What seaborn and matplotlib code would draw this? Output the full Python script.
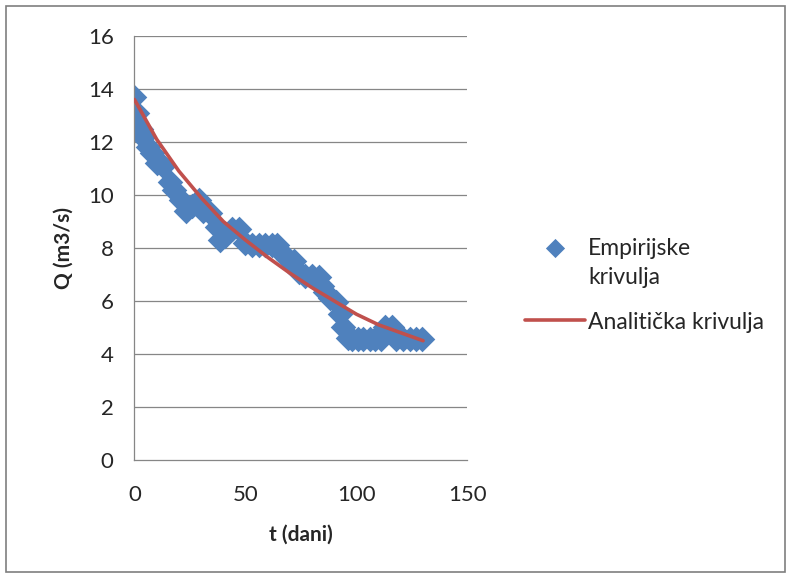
import matplotlib.pyplot as plt
import matplotlib.patches as mpatches
import pandas as pd
import seaborn as sns

t_emp = [0, 1, 3, 4, 6, 8, 10, 13, 16, 18, 21, 23, 26, 29, 31, 34, 37, 38.5,
         41, 44, 47, 50, 53, 56, 59, 62, 64, 66, 69, 72, 74, 77, 80, 83, 84.5,
         86, 88, 91, 92.5, 94, 96, 98, 100.5, 103, 106, 108.5, 111, 113, 116,
         118, 121, 124, 127, 129.5]
q_emp = [13.7, 13.1, 12.5, 12.2, 11.8, 11.6, 11.2, 11.1, 10.5, 10.2, 9.8, 9.4,
         9.6, 9.8, 9.4, 9.3, 8.8, 8.3, 8.45, 8.7, 8.7, 8.2, 8.1, 8.1, 8.1, 8.1,
         8.1, 7.85, 7.6, 7.5, 7.1, 6.95, 6.95, 6.9, 6.55, 6.35, 6.1, 5.95, 5.5,
         5.0, 4.6, 4.55, 4.55, 4.55, 4.55, 4.55, 4.55, 5.0, 5.0, 4.55, 4.55,
         4.55, 4.55, 4.55]

# Analytical curve
t_an = [0, 10, 20, 30, 40, 50, 60, 70, 80, 90, 100, 110, 120, 130]
q_an = [13.6, 12.1, 10.9, 9.9, 9.0, 8.3, 7.65, 7.05, 6.5, 6.0, 5.5, 5.1, 4.8, 4.5]

df_emp = pd.DataFrame({'t': t_emp, 'Q': q_emp})
df_an = pd.DataFrame({'t': t_an, 'Q': q_an})

sns.set_style('white')
plt.rcParams['font.family'] = ['Lato', 'DejaVu Sans']

fig = plt.figure(figsize=(7.91, 5.79), dpi=100)
ax = fig.add_axes([0.170, 0.2055, 0.421, 0.7325])

grid_col = '#868686'
for y in range(2, 17, 2):
    ax.axhline(y, color=grid_col, lw=0.9, zorder=0)

sns.scatterplot(data=df_emp, x='t', y='Q', ax=ax, marker='D', s=170,
                color='#4F81BD', edgecolor='#4F81BD', linewidth=0,
                label='Empirijske\nkrivulja', zorder=2)
sns.lineplot(data=df_an, x='t', y='Q', ax=ax, color='#C0504D', lw=2.6,
             label='Analitička krivulja', zorder=3, solid_capstyle='round')

ax.set_xlim(0, 150)
ax.set_ylim(0, 16)
ax.set_xticks([0, 50, 100, 150])
ax.set_yticks(range(0, 17, 2))
ax.tick_params(axis='both', direction='out', length=6, width=0.9,
               color=grid_col, labelsize=16, labelcolor='#262626')
ax.tick_params(axis='y', pad=9)
ax.tick_params(axis='x', pad=12)
for s in ['top', 'right']:
    ax.spines[s].set_visible(False)
for s in ['left', 'bottom']:
    ax.spines[s].set_color(grid_col)
    ax.spines[s].set_linewidth(0.9)

ax.set_xlabel('t (dani)', fontsize=15, fontweight='bold', labelpad=14)
ax.set_ylabel('Q (m3/s)', fontsize=15, fontweight='bold', labelpad=10)

leg = ax.legend(loc='center left', bbox_to_anchor=(0.638, 0.507), bbox_transform=fig.transFigure,
                frameon=False, fontsize=16.5, handlelength=2.6, handletextpad=0.15,
                labelspacing=1.05, markerscale=0.75)
for txt in leg.get_texts():
    txt.set_color('#262626')
    txt.set_linespacing(1.5)

# put the diamond next to the first line of its two-line label, like Excel does
try:
    for col in leg._legend_handle_box.get_children():
        for item in col.get_children():
            item.align = 'top'
except AttributeError:
    pass

fig.patches.append(mpatches.Rectangle((0.008, 0.012), 0.984, 0.978, transform=fig.transFigure,
                                      fill=False, edgecolor='#7f7f7f', lw=1.2))

fig.savefig('out.png', dpi=100)
